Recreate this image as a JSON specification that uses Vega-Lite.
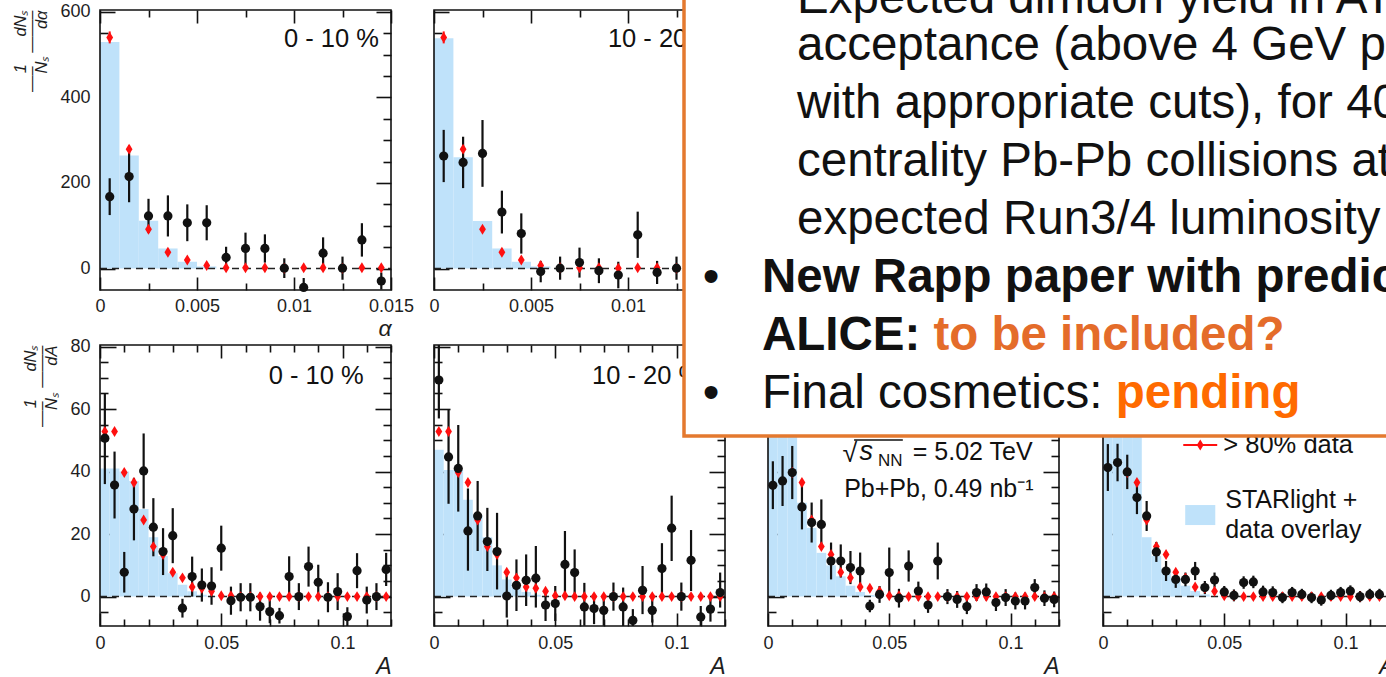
{
  "$schema": "https://vega.github.io/schema/vega-lite/v6.json",
  "width": 1386,
  "height": 677,
  "autosize": {"type": "none"},
  "padding": 0,
  "background": "white",
  "config": {
    "font": "Liberation Sans",
    "view": {"stroke": null},
    "axis": {
      "zindex": 1,
      "grid": false,
      "domain": false,
      "tickColor": "#111111",
      "tickWidth": 1.6,
      "labelFont": "Liberation Sans",
      "labelFontSize": 18,
      "labelColor": "#1e1e1e",
      "labelFlush": false,
      "labelOverlap": false,
      "labelBound": false,
      "titleFont": "Liberation Sans",
      "titleColor": "#1e1e1e",
      "titleFontWeight": "normal"
    }
  },
  "datasets": {
    "top1_hist": [
      {"a0": 0, "a1": 0.001, "v": 529}, {"a0": 0.001, "a1": 0.002, "v": 264}, {"a0": 0.002, "a1": 0.003, "v": 112},
      {"a0": 0.003, "a1": 0.004, "v": 47}, {"a0": 0.004, "a1": 0.005, "v": 16}, {"a0": 0.005, "a1": 0.006, "v": 5}
    ],
    "top2_hist": [
      {"a0": 0, "a1": 0.001, "v": 538}, {"a0": 0.001, "a1": 0.002, "v": 260}, {"a0": 0.002, "a1": 0.003, "v": 111},
      {"a0": 0.003, "a1": 0.004, "v": 47}, {"a0": 0.004, "a1": 0.005, "v": 16}, {"a0": 0.005, "a1": 0.006, "v": 5}
    ],
    "top_red": [
      {"a": 0.0005, "v": 540, "lo": 526, "hi": 554}, {"a": 0.0015, "v": 279, "lo": 270, "hi": 288},
      {"a": 0.0025, "v": 92, "lo": 86, "hi": 98}, {"a": 0.0035, "v": 38, "lo": 33, "hi": 43},
      {"a": 0.0045, "v": 20, "lo": 16, "hi": 24}, {"a": 0.0055, "v": 7, "lo": 4, "hi": 10},
      {"a": 0.0065, "v": 2, "lo": 0, "hi": 4}, {"a": 0.0075, "v": 2, "lo": 0, "hi": 4},
      {"a": 0.0085, "v": 2, "lo": 0, "hi": 4}, {"a": 0.0095, "v": 1, "lo": -1, "hi": 3},
      {"a": 0.0105, "v": 2, "lo": 0, "hi": 4}, {"a": 0.0115, "v": 2, "lo": 0, "hi": 4},
      {"a": 0.0125, "v": 1, "lo": -1, "hi": 3}, {"a": 0.0135, "v": 2, "lo": 0, "hi": 4},
      {"a": 0.0145, "v": 2, "lo": 0, "hi": 4}
    ],
    "top1_pts": [
      {"a": 0.0005, "v": 168, "lo": 125, "hi": 211}, {"a": 0.0015, "v": 215, "lo": 155, "hi": 275},
      {"a": 0.0025, "v": 123, "lo": 83, "hi": 163}, {"a": 0.0035, "v": 123, "lo": 75, "hi": 171},
      {"a": 0.0045, "v": 107, "lo": 64, "hi": 150}, {"a": 0.0055, "v": 107, "lo": 66, "hi": 148},
      {"a": 0.0065, "v": 26, "lo": 1, "hi": 51}, {"a": 0.0075, "v": 47, "lo": 10, "hi": 84},
      {"a": 0.0085, "v": 47, "lo": 14, "hi": 80}, {"a": 0.0095, "v": 1, "lo": -22, "hi": 24},
      {"a": 0.0105, "v": -44, "lo": -66, "hi": -22}, {"a": 0.0115, "v": 36, "lo": -1, "hi": 73},
      {"a": 0.0125, "v": 1, "lo": -26, "hi": 28}, {"a": 0.0135, "v": 67, "lo": 28, "hi": 106},
      {"a": 0.0145, "v": -29, "lo": -49, "hi": -9}
    ],
    "top2_pts": [
      {"a": 0.0005, "v": 263, "lo": 202, "hi": 324}, {"a": 0.0015, "v": 248, "lo": 188, "hi": 308},
      {"a": 0.0025, "v": 269, "lo": 191, "hi": 347}, {"a": 0.0035, "v": 132, "lo": 82, "hi": 182},
      {"a": 0.0045, "v": 82, "lo": 35, "hi": 129}, {"a": 0.0055, "v": -7, "lo": -32, "hi": 18},
      {"a": 0.0065, "v": 1, "lo": -26, "hi": 28}, {"a": 0.0075, "v": 14, "lo": -21, "hi": 49},
      {"a": 0.0085, "v": -5, "lo": -34, "hi": 24}, {"a": 0.0095, "v": -15, "lo": -46, "hi": 16},
      {"a": 0.0105, "v": 79, "lo": 25, "hi": 133}, {"a": 0.0115, "v": -9, "lo": -36, "hi": 18},
      {"a": 0.0125, "v": 1, "lo": -26, "hi": 28}
    ],
    "bot_red": [
      {"a": 0.002, "v": 52.8}, {"a": 0.006, "v": 52.8}, {"a": 0.01, "v": 39.7}, {"a": 0.014, "v": 36.5},
      {"a": 0.018, "v": 24.5}, {"a": 0.022, "v": 16}, {"a": 0.026, "v": 13.5}, {"a": 0.03, "v": 7.8},
      {"a": 0.034, "v": 6}, {"a": 0.038, "v": 3.1}, {"a": 0.042, "v": 2.7}, {"a": 0.046, "v": 1.7},
      {"a": 0.05, "v": 0.3}, {"a": 0.054, "v": 0.3}, {"a": 0.058, "v": 0}, {"a": 0.062, "v": 0},
      {"a": 0.066, "v": 0}, {"a": 0.07, "v": 0}, {"a": 0.074, "v": 0}, {"a": 0.078, "v": 0},
      {"a": 0.082, "v": 0}, {"a": 0.086, "v": 0}, {"a": 0.09, "v": 0}, {"a": 0.094, "v": 0},
      {"a": 0.098, "v": 0}, {"a": 0.102, "v": 0}, {"a": 0.106, "v": 0}, {"a": 0.11, "v": 0},
      {"a": 0.114, "v": 0}, {"a": 0.118, "v": 0}
    ],
    "b1_hist": [
      {"a0": 0, "a1": 0.004, "v": 41}, {"a0": 0.004, "a1": 0.008, "v": 41}, {"a0": 0.008, "a1": 0.012, "v": 40},
      {"a0": 0.012, "a1": 0.016, "v": 37}, {"a0": 0.016, "a1": 0.02, "v": 28}, {"a0": 0.02, "a1": 0.024, "v": 19},
      {"a0": 0.024, "a1": 0.028, "v": 13}, {"a0": 0.028, "a1": 0.032, "v": 7.5}, {"a0": 0.032, "a1": 0.036, "v": 3.8},
      {"a0": 0.036, "a1": 0.04, "v": 1.7}, {"a0": 0.04, "a1": 0.044, "v": 0.6}, {"a0": 0.044, "a1": 0.048, "v": 0.2}
    ],
    "b2_hist": [
      {"a0": 0, "a1": 0.004, "v": 47}, {"a0": 0.004, "a1": 0.008, "v": 40.5}, {"a0": 0.008, "a1": 0.012, "v": 40.5},
      {"a0": 0.012, "a1": 0.016, "v": 31}, {"a0": 0.016, "a1": 0.02, "v": 26}, {"a0": 0.02, "a1": 0.024, "v": 19},
      {"a0": 0.024, "a1": 0.028, "v": 10}, {"a0": 0.028, "a1": 0.032, "v": 5.5}, {"a0": 0.032, "a1": 0.036, "v": 3},
      {"a0": 0.036, "a1": 0.04, "v": 1.5}, {"a0": 0.04, "a1": 0.044, "v": 0.6}, {"a0": 0.044, "a1": 0.048, "v": 0.2}
    ],
    "b3_hist": [
      {"a0": 0, "a1": 0.004, "v": 60}, {"a0": 0.004, "a1": 0.008, "v": 58}, {"a0": 0.008, "a1": 0.012, "v": 52},
      {"a0": 0.012, "a1": 0.016, "v": 30}, {"a0": 0.016, "a1": 0.02, "v": 22}, {"a0": 0.02, "a1": 0.024, "v": 14},
      {"a0": 0.024, "a1": 0.028, "v": 10}, {"a0": 0.028, "a1": 0.032, "v": 6.5}, {"a0": 0.032, "a1": 0.036, "v": 3.5},
      {"a0": 0.036, "a1": 0.04, "v": 1.5}, {"a0": 0.04, "a1": 0.044, "v": 0.5}, {"a0": 0.044, "a1": 0.048, "v": 0.2}
    ],
    "b4_hist": [
      {"a0": 0, "a1": 0.004, "v": 70}, {"a0": 0.004, "a1": 0.008, "v": 65}, {"a0": 0.008, "a1": 0.012, "v": 58},
      {"a0": 0.012, "a1": 0.016, "v": 54}, {"a0": 0.016, "a1": 0.02, "v": 19}, {"a0": 0.02, "a1": 0.024, "v": 13},
      {"a0": 0.024, "a1": 0.028, "v": 9}, {"a0": 0.028, "a1": 0.032, "v": 6}, {"a0": 0.032, "a1": 0.036, "v": 3.5},
      {"a0": 0.036, "a1": 0.04, "v": 1.8}, {"a0": 0.04, "a1": 0.044, "v": 0.7}, {"a0": 0.044, "a1": 0.048, "v": 0.2}
    ],
    "b1_pts": [
      {"a": 0.002, "v": 50.7, "lo": 36, "hi": 65}, {"a": 0.006, "v": 35.7, "lo": 25, "hi": 46.4},
      {"a": 0.01, "v": 7.8, "lo": 1.3, "hi": 14.3}, {"a": 0.014, "v": 28, "lo": 18, "hi": 38},
      {"a": 0.018, "v": 40.2, "lo": 28.2, "hi": 52.2}, {"a": 0.022, "v": 22.2, "lo": 12.9, "hi": 31.5},
      {"a": 0.026, "v": 14.4, "lo": 6.9, "hi": 21.9}, {"a": 0.03, "v": 19.5, "lo": 10.7, "hi": 28.3},
      {"a": 0.034, "v": -3.7, "lo": -6.7, "hi": -0.7}, {"a": 0.038, "v": 6.4, "lo": 0, "hi": 12.8},
      {"a": 0.042, "v": 3.7, "lo": -1.6, "hi": 9}, {"a": 0.046, "v": 3.4, "lo": -2.6, "hi": 9.4},
      {"a": 0.05, "v": 15.5, "lo": 8.3, "hi": 22.7}, {"a": 0.054, "v": -1.3, "lo": -5.8, "hi": 3.2},
      {"a": 0.058, "v": -0.2, "lo": -4.7, "hi": 4.3}, {"a": 0.062, "v": -0.2, "lo": -4.7, "hi": 4.3},
      {"a": 0.066, "v": -3.2, "lo": -7.7, "hi": 1.3}, {"a": 0.07, "v": -4.8, "lo": -8.5, "hi": -1.1},
      {"a": 0.074, "v": -6.1, "lo": -8.6, "hi": -3.6}, {"a": 0.078, "v": 6.4, "lo": -0.1, "hi": 12.9},
      {"a": 0.082, "v": 0, "lo": -4.3, "hi": 4.3}, {"a": 0.086, "v": 9.6, "lo": 3.2, "hi": 16},
      {"a": 0.09, "v": 4.6, "lo": -1, "hi": 10.2}, {"a": 0.094, "v": -0.2, "lo": -5, "hi": 4.6},
      {"a": 0.098, "v": 1.6, "lo": -4.3, "hi": 7.5}, {"a": 0.102, "v": -6.4, "lo": -9.4, "hi": -3.4},
      {"a": 0.106, "v": 8.3, "lo": 2.7, "hi": 13.9}, {"a": 0.11, "v": -1.1, "lo": -5.4, "hi": 3.2},
      {"a": 0.114, "v": 0, "lo": -4.3, "hi": 4.3}, {"a": 0.118, "v": 8.7, "lo": 3.4, "hi": 14}
    ],
    "b2_pts": [
      {"a": 0.002, "v": 69.3, "lo": 57, "hi": 82}, {"a": 0.006, "v": 44.7, "lo": 29.7, "hi": 59.7},
      {"a": 0.01, "v": 41, "lo": 27.2, "hi": 54.9}, {"a": 0.014, "v": 21, "lo": 8.3, "hi": 34.6},
      {"a": 0.018, "v": 25.8, "lo": 14.6, "hi": 37}, {"a": 0.022, "v": 17.6, "lo": 8.2, "hi": 28.4},
      {"a": 0.026, "v": 14.4, "lo": 2.3, "hi": 26.8}, {"a": 0.03, "v": 0.2, "lo": -6.7, "hi": 6.6},
      {"a": 0.034, "v": 3.6, "lo": -4.6, "hi": 11.9}, {"a": 0.038, "v": 5.2, "lo": -3, "hi": 13.5},
      {"a": 0.042, "v": 5.9, "lo": -3.5, "hi": 16.2}, {"a": 0.046, "v": -2.7, "lo": -7.8, "hi": 1.3},
      {"a": 0.05, "v": -2.2, "lo": -7.8, "hi": 3.4}, {"a": 0.054, "v": 10.3, "lo": -0.3, "hi": 21},
      {"a": 0.058, "v": 7.7, "lo": -0.3, "hi": 15.1}, {"a": 0.062, "v": -3.3, "lo": -9.3, "hi": 4.4},
      {"a": 0.066, "v": -3.8, "lo": -8.8, "hi": 0.7}, {"a": 0.07, "v": -4.4, "lo": -9.3, "hi": 0.2},
      {"a": 0.074, "v": 0, "lo": -4.5, "hi": 4.5}, {"a": 0.078, "v": -3.3, "lo": -9.6, "hi": 2.9},
      {"a": 0.082, "v": -7.6, "lo": -11, "hi": -4}, {"a": 0.086, "v": 2, "lo": -5.6, "hi": 9.8},
      {"a": 0.09, "v": -4.4, "lo": -8.3, "hi": -0.4}, {"a": 0.094, "v": 9, "lo": -0.2, "hi": 17.1},
      {"a": 0.098, "v": 21.9, "lo": 11.4, "hi": 32.3}, {"a": 0.102, "v": 0, "lo": -4.5, "hi": 4.5},
      {"a": 0.106, "v": 11.6, "lo": 1.8, "hi": 21.3}, {"a": 0.11, "v": -6.5, "lo": -10, "hi": -3},
      {"a": 0.114, "v": -4, "lo": -8, "hi": 0}, {"a": 0.118, "v": 1.3, "lo": -3.5, "hi": 7.7}
    ],
    "b3_pts": [
      {"a": 0.002, "v": 35.6, "lo": 28, "hi": 43.3}, {"a": 0.006, "v": 37, "lo": 29, "hi": 45},
      {"a": 0.01, "v": 39.7, "lo": 31.2, "hi": 48.2}, {"a": 0.014, "v": 28.7, "lo": 21.5, "hi": 35.9},
      {"a": 0.018, "v": 23.7, "lo": 17.3, "hi": 30.1}, {"a": 0.022, "v": 23.1, "lo": 15.1, "hi": 31.1},
      {"a": 0.026, "v": 11.4, "lo": 5.5, "hi": 17.3}, {"a": 0.03, "v": 11.4, "lo": 6.1, "hi": 16.7},
      {"a": 0.034, "v": 9.3, "lo": 4, "hi": 14.6}, {"a": 0.038, "v": 8.2, "lo": 2.3, "hi": 14.1},
      {"a": 0.042, "v": -3, "lo": -5, "hi": -1}, {"a": 0.046, "v": 0.7, "lo": -2, "hi": 3.4},
      {"a": 0.05, "v": 7.7, "lo": -0.3, "hi": 15.7}, {"a": 0.054, "v": -0.5, "lo": -3.5, "hi": 2.5},
      {"a": 0.058, "v": 9.8, "lo": 4.8, "hi": 14.8}, {"a": 0.062, "v": 1.8, "lo": -1.2, "hi": 4.8},
      {"a": 0.066, "v": -2.7, "lo": -5.2, "hi": -0.2}, {"a": 0.07, "v": 11.4, "lo": 5.5, "hi": 17.3},
      {"a": 0.074, "v": 0, "lo": -2.4, "hi": 2.4}, {"a": 0.078, "v": -0.9, "lo": -3.6, "hi": 1.8},
      {"a": 0.082, "v": -3.2, "lo": -5.6, "hi": -0.8}, {"a": 0.086, "v": 1.3, "lo": -1.4, "hi": 4},
      {"a": 0.09, "v": 1.5, "lo": -1.2, "hi": 4.2}, {"a": 0.094, "v": -1.9, "lo": -4.6, "hi": 0.8},
      {"a": 0.098, "v": -0.3, "lo": -3, "hi": 2.4}, {"a": 0.102, "v": -1.4, "lo": -4.1, "hi": 1.3},
      {"a": 0.106, "v": -1.4, "lo": -4.1, "hi": 1.3}, {"a": 0.11, "v": 2.9, "lo": 0.2, "hi": 5.6},
      {"a": 0.114, "v": -0.5, "lo": -3, "hi": 2}, {"a": 0.118, "v": -0.9, "lo": -3.4, "hi": 1.6}
    ],
    "b4_pts": [
      {"a": 0.002, "v": 41.3, "lo": 33.8, "hi": 48.8}, {"a": 0.006, "v": 42.9, "lo": 36.9, "hi": 48.9},
      {"a": 0.01, "v": 39.9, "lo": 34.4, "hi": 45.4}, {"a": 0.014, "v": 31.7, "lo": 26.4, "hi": 37},
      {"a": 0.018, "v": 25.8, "lo": 21, "hi": 30.6}, {"a": 0.022, "v": 14.3, "lo": 11.1, "hi": 17.5},
      {"a": 0.026, "v": 8.2, "lo": 5, "hi": 11.4}, {"a": 0.03, "v": 5.5, "lo": 2.8, "hi": 8.2},
      {"a": 0.034, "v": 5.5, "lo": 3.3, "hi": 7.7}, {"a": 0.038, "v": 8.2, "lo": 5.3, "hi": 11.1},
      {"a": 0.042, "v": 2.9, "lo": 0.8, "hi": 5}, {"a": 0.046, "v": 5.3, "lo": 2.9, "hi": 7.7},
      {"a": 0.05, "v": 1.5, "lo": -0.4, "hi": 3.4}, {"a": 0.054, "v": 0.4, "lo": -1.5, "hi": 2.3},
      {"a": 0.058, "v": 4.5, "lo": 2.5, "hi": 6.5}, {"a": 0.062, "v": 4.7, "lo": 2.7, "hi": 6.7},
      {"a": 0.066, "v": 1.5, "lo": -0.5, "hi": 3.5}, {"a": 0.07, "v": 1.3, "lo": -0.7, "hi": 3.3},
      {"a": 0.074, "v": -0.3, "lo": -2.1, "hi": 1.5}, {"a": 0.078, "v": 1.3, "lo": -0.5, "hi": 3.1},
      {"a": 0.082, "v": 0.7, "lo": -1.1, "hi": 2.5}, {"a": 0.086, "v": -0.3, "lo": -2.1, "hi": 1.5},
      {"a": 0.09, "v": -1.1, "lo": -2.9, "hi": 0.7}, {"a": 0.094, "v": 0.4, "lo": -1.4, "hi": 2.2},
      {"a": 0.098, "v": 1.3, "lo": -0.5, "hi": 3.1}, {"a": 0.102, "v": 1.8, "lo": 0, "hi": 3.6},
      {"a": 0.106, "v": 0, "lo": -1.8, "hi": 1.8}, {"a": 0.11, "v": 0.7, "lo": -1.1, "hi": 2.5},
      {"a": 0.114, "v": 0.7, "lo": -1.1, "hi": 2.5}
    ],
    "box_first": [{"txt": "Expected dimuon yield in ATLAS"}],
    "box_sub": [
      {"line": 1, "txt": "acceptance (above 4 GeV pT"},
      {"line": 2, "txt": "with appropriate cuts), for 40"},
      {"line": 3, "txt": "centrality Pb-Pb collisions at"},
      {"line": 4, "txt": "expected Run3/4 luminosity"}
    ],
    "box_bullets": [{"line": 5, "txt": "\u2022"}, {"line": 7, "txt": "\u2022"}],
    "box_bold": [{"line": 5, "txt": "New Rapp paper with predictions for"}, {"line": 6, "txt": "ALICE:"}],
    "box_plain": [{"line": 7, "txt": "Final cosmetics:"}],
    "box_q": [{"line": 6, "txt": "to be included?"}],
    "box_pending": [{"line": 7, "txt": "pending"}]
  },
  "layer": [
    {"data": {"name": "top1_hist"}, "mark": {"type": "rect", "color": "#bfe2fa"},
     "encoding": {
       "x": {"field": "a0", "type": "quantitative", "scale": {"domain": [0, 0.015], "range": [100, 391], "nice": false, "zero": false},
             "axis": {"orient": "bottom", "offset": -387, "values": [0, 0.0025, 0.005, 0.0075, 0.01, 0.0125, 0.015],
                      "tickSize": {"condition": {"test": "abs(datum.value/0.005-round(datum.value/0.005))<1e-6", "value": -13}, "value": -7},
                      "labelPadding": 20, "labelExpr": "abs(datum.value/0.005-round(datum.value/0.005))<1e-6 ? format(datum.value,'~g') : ''",
                      "title": "\u03b1", "titleAnchor": "end", "titleFontSize": 23, "titleFontStyle": "italic", "titlePadding": -4}},
       "x2": {"field": "a1"},
       "y": {"field": "v", "type": "quantitative", "scale": {"domain": [-50, 604], "range": [290, 10], "nice": false, "zero": false},
             "axis": {"orient": "left", "offset": -100, "values": [0, 50, 100, 150, 200, 250, 300, 350, 400, 450, 500, 550, 600],
                      "tickSize": {"condition": {"test": "abs(datum.value/200-round(datum.value/200))<1e-6", "value": -15}, "value": -8},
                      "labelPadding": 25, "labelExpr": "abs(datum.value/200-round(datum.value/200))<1e-6 ? format(datum.value,'d') : ''",
                      "title": ["1\u00a0\u00a0\u00a0\u00a0\u00a0\u00a0dN\u209b\u00a0\u00a0", "\u2014\u2013\u00a0\u00a0\u00a0\u2014\u2014\u2013", "N\u209b\u00a0\u00a0\u00a0\u00a0\u00a0\u00a0d\u03b1\u00a0\u00a0\u00a0"],
                      "titleAnchor": "end", "titleFontSize": 16.5, "titleLineHeight": 10.5, "titleFontStyle": "italic", "titlePadding": 10}},
       "y2": {"datum": 0}
     }},
    {"data": {"values": [{}]}, "mark": {"type": "rule", "color": "#222222", "strokeWidth": 1.5, "strokeDash": [7, 5]},
     "encoding": {
       "x": {"datum": 0, "type": "quantitative", "scale": {"domain": [0, 0.015], "range": [100, 391], "nice": false, "zero": false}, "axis": null},
       "x2": {"datum": 0.015},
       "y": {"datum": 0, "type": "quantitative", "scale": {"domain": [-50, 604], "range": [290, 10], "nice": false, "zero": false}, "axis": null}
     }},
    {"data": {"values": [{}]}, "mark": {"type": "rect", "filled": false, "color": "#111111", "strokeWidth": 1.6},
     "encoding": {
       "x": {"datum": 0, "type": "quantitative", "scale": {"domain": [0, 0.015], "range": [100, 391], "nice": false, "zero": false}, "axis": null},
       "x2": {"datum": 0.015},
       "y": {"datum": -50, "type": "quantitative", "scale": {"domain": [-50, 604], "range": [290, 10], "nice": false, "zero": false}, "axis": null},
       "y2": {"datum": 604}
     }},
    {"data": {"name": "top1_pts"}, "mark": {"type": "rule", "color": "#111111", "strokeWidth": 2.2},
     "encoding": {
       "x": {"field": "a", "type": "quantitative", "scale": {"domain": [0, 0.015], "range": [100, 391], "nice": false, "zero": false},
             "axis": {"orient": "top", "offset": -10, "values": [0, 0.0025, 0.005, 0.0075, 0.01, 0.0125, 0.015], "labels": false, "title": null,
                      "tickSize": {"condition": {"test": "abs(datum.value/0.005-round(datum.value/0.005))<1e-6", "value": -13}, "value": -7}}},
       "y": {"field": "lo", "type": "quantitative", "scale": {"domain": [-50, 604], "range": [290, 10], "nice": false, "zero": false, "clamp": true},
             "axis": {"orient": "right", "offset": -995, "values": [0, 50, 100, 150, 200, 250, 300, 350, 400, 450, 500, 550, 600], "labels": false, "title": null,
                      "tickSize": {"condition": {"test": "abs(datum.value/200-round(datum.value/200))<1e-6", "value": -15}, "value": -8}}},
       "y2": {"field": "hi"}
     }},
    {"data": {"name": "top_red"}, "mark": {"type": "rule", "color": "#ff1010", "strokeWidth": 2},
     "encoding": {
       "x": {"field": "a", "type": "quantitative", "scale": {"domain": [0, 0.015], "range": [100, 391], "nice": false, "zero": false}, "axis": null},
       "y": {"field": "lo", "type": "quantitative", "scale": {"domain": [-50, 604], "range": [290, 10], "nice": false, "zero": false}, "axis": null},
       "y2": {"field": "hi"}
     }},
    {"data": {"name": "top_red"}, "mark": {"type": "point", "shape": "M0,-1L0.62,0L0,1L-0.62,0Z", "filled": true, "size": 120, "color": "#ff1010", "opacity": 1},
     "encoding": {
       "x": {"field": "a", "type": "quantitative", "scale": {"domain": [0, 0.015], "range": [100, 391], "nice": false, "zero": false}, "axis": null},
       "y": {"field": "v", "type": "quantitative", "scale": {"domain": [-50, 604], "range": [290, 10], "nice": false, "zero": false}, "axis": null}
     }},
    {"data": {"name": "top1_pts"}, "mark": {"type": "circle", "size": 85, "color": "#111111", "opacity": 1},
     "encoding": {
       "x": {"field": "a", "type": "quantitative", "scale": {"domain": [0, 0.015], "range": [100, 391], "nice": false, "zero": false}, "axis": null},
       "y": {"field": "v", "type": "quantitative", "scale": {"domain": [-50, 604], "range": [290, 10], "nice": false, "zero": false}, "axis": null}
     }},
    {"data": {"values": [{}]}, "mark": {"type": "text", "text": "0 - 10 %", "align": "right", "baseline": "alphabetic", "fontSize": 25.5, "color": "#111111"},
     "encoding": {
       "x": {"datum": 0.01438, "type": "quantitative", "scale": {"domain": [0, 0.015], "range": [100, 391], "nice": false, "zero": false}, "axis": null},
       "y": {"datum": 518, "type": "quantitative", "scale": {"domain": [-50, 604], "range": [290, 10], "nice": false, "zero": false}, "axis": null}
     }},

    {"data": {"name": "top2_hist"}, "mark": {"type": "rect", "color": "#bfe2fa"},
     "encoding": {
       "x": {"field": "a0", "type": "quantitative", "scale": {"domain": [0, 0.015], "range": [434, 725], "nice": false, "zero": false},
             "axis": {"orient": "bottom", "offset": -387, "values": [0, 0.0025, 0.005, 0.0075, 0.01, 0.0125],
                      "tickSize": {"condition": {"test": "abs(datum.value/0.005-round(datum.value/0.005))<1e-6", "value": -13}, "value": -7},
                      "labelPadding": 20, "labelExpr": "abs(datum.value/0.005-round(datum.value/0.005))<1e-6 ? format(datum.value,'~g') : ''",
                      "title": null}},
       "x2": {"field": "a1"},
       "y": {"field": "v", "type": "quantitative", "scale": {"domain": [-50, 604], "range": [290, 10], "nice": false, "zero": false},
             "axis": {"orient": "left", "offset": -434, "values": [0, 50, 100, 150, 200, 250, 300, 350, 400, 450, 500, 550, 600], "labels": false, "title": null,
                      "tickSize": {"condition": {"test": "abs(datum.value/200-round(datum.value/200))<1e-6", "value": -15}, "value": -8}}},
       "y2": {"datum": 0}
     }},
    {"data": {"values": [{}]}, "mark": {"type": "rule", "color": "#222222", "strokeWidth": 1.5, "strokeDash": [7, 5]},
     "encoding": {
       "x": {"datum": 0, "type": "quantitative", "scale": {"domain": [0, 0.015], "range": [434, 725], "nice": false, "zero": false}, "axis": null},
       "x2": {"datum": 0.015},
       "y": {"datum": 0, "type": "quantitative", "scale": {"domain": [-50, 604], "range": [290, 10], "nice": false, "zero": false}, "axis": null}
     }},
    {"data": {"values": [{}]}, "mark": {"type": "rect", "filled": false, "color": "#111111", "strokeWidth": 1.6},
     "encoding": {
       "x": {"datum": 0, "type": "quantitative", "scale": {"domain": [0, 0.015], "range": [434, 725], "nice": false, "zero": false}, "axis": null},
       "x2": {"datum": 0.015},
       "y": {"datum": -50, "type": "quantitative", "scale": {"domain": [-50, 604], "range": [290, 10], "nice": false, "zero": false}, "axis": null},
       "y2": {"datum": 604}
     }},
    {"data": {"name": "top2_pts"}, "mark": {"type": "rule", "color": "#111111", "strokeWidth": 2.2},
     "encoding": {
       "x": {"field": "a", "type": "quantitative", "scale": {"domain": [0, 0.015], "range": [434, 725], "nice": false, "zero": false},
             "axis": {"orient": "top", "offset": -10, "values": [0, 0.0025, 0.005, 0.0075, 0.01, 0.0125], "labels": false, "title": null,
                      "tickSize": {"condition": {"test": "abs(datum.value/0.005-round(datum.value/0.005))<1e-6", "value": -13}, "value": -7}}},
       "y": {"field": "lo", "type": "quantitative", "scale": {"domain": [-50, 604], "range": [290, 10], "nice": false, "zero": false, "clamp": true}, "axis": null},
       "y2": {"field": "hi"}
     }},
    {"data": {"name": "top_red"}, "mark": {"type": "rule", "color": "#ff1010", "strokeWidth": 2},
     "encoding": {
       "x": {"field": "a", "type": "quantitative", "scale": {"domain": [0, 0.015], "range": [434, 725], "nice": false, "zero": false}, "axis": null},
       "y": {"field": "lo", "type": "quantitative", "scale": {"domain": [-50, 604], "range": [290, 10], "nice": false, "zero": false}, "axis": null},
       "y2": {"field": "hi"}
     }},
    {"data": {"name": "top_red"}, "mark": {"type": "point", "shape": "M0,-1L0.62,0L0,1L-0.62,0Z", "filled": true, "size": 120, "color": "#ff1010", "opacity": 1},
     "encoding": {
       "x": {"field": "a", "type": "quantitative", "scale": {"domain": [0, 0.015], "range": [434, 725], "nice": false, "zero": false}, "axis": null},
       "y": {"field": "v", "type": "quantitative", "scale": {"domain": [-50, 604], "range": [290, 10], "nice": false, "zero": false}, "axis": null}
     }},
    {"data": {"name": "top2_pts"}, "mark": {"type": "circle", "size": 85, "color": "#111111", "opacity": 1},
     "encoding": {
       "x": {"field": "a", "type": "quantitative", "scale": {"domain": [0, 0.015], "range": [434, 725], "nice": false, "zero": false}, "axis": null},
       "y": {"field": "v", "type": "quantitative", "scale": {"domain": [-50, 604], "range": [290, 10], "nice": false, "zero": false}, "axis": null}
     }},
    {"data": {"values": [{}]}, "mark": {"type": "text", "text": "10 - 20 %", "align": "right", "baseline": "alphabetic", "fontSize": 25.5, "color": "#111111"},
     "encoding": {
       "x": {"datum": 0.01459, "type": "quantitative", "scale": {"domain": [0, 0.015], "range": [434, 725], "nice": false, "zero": false}, "axis": null},
       "y": {"datum": 518, "type": "quantitative", "scale": {"domain": [-50, 604], "range": [290, 10], "nice": false, "zero": false}, "axis": null}
     }},

    {"data": {"name": "b1_hist"}, "mark": {"type": "rect", "color": "#bfe2fa"},
     "encoding": {
       "x": {"field": "a0", "type": "quantitative", "scale": {"domain": [0, 0.12], "range": [100, 391], "nice": false, "zero": false},
             "axis": {"orient": "bottom", "offset": -51, "values": [0, 0.01, 0.02, 0.03, 0.04, 0.05, 0.06, 0.07, 0.08, 0.09, 0.1, 0.11, 0.12],
                      "tickSize": {"condition": {"test": "abs(datum.value/0.05-round(datum.value/0.05))<1e-6", "value": -13}, "value": -7},
                      "labelPadding": 21, "labelExpr": "abs(datum.value/0.05-round(datum.value/0.05))<1e-6 ? format(datum.value,'~g') : ''",
                      "title": "A", "titleAnchor": "end", "titleFontSize": 23, "titleFontStyle": "italic", "titlePadding": -3}},
       "x2": {"field": "a1"},
       "y": {"field": "v", "type": "quantitative", "scale": {"domain": [-9.4, 80.5], "range": [626, 345], "nice": false, "zero": false},
             "axis": {"orient": "left", "offset": -100, "values": [-5, 0, 5, 10, 15, 20, 25, 30, 35, 40, 45, 50, 55, 60, 65, 70, 75, 80],
                      "tickSize": {"condition": {"test": "abs(datum.value/20-round(datum.value/20))<1e-6", "value": -16}, "value": -8},
                      "labelPadding": 26, "labelExpr": "abs(datum.value/20-round(datum.value/20))<1e-6 ? format(datum.value,'d') : ''",
                      "title": ["1\u00a0\u00a0\u00a0\u00a0\u00a0\u00a0dN\u209b\u00a0\u00a0", "\u2014\u2013\u00a0\u00a0\u00a0\u2014\u2014\u2013", "N\u209b\u00a0\u00a0\u00a0\u00a0\u00a0\u00a0dA\u00a0\u00a0\u00a0"],
                      "titleAnchor": "end", "titleFontSize": 16.5, "titleLineHeight": 10.5, "titleFontStyle": "italic", "titlePadding": 10}},
       "y2": {"datum": 0}
     }},
    {"data": {"values": [{}]}, "mark": {"type": "rule", "color": "#222222", "strokeWidth": 1.5, "strokeDash": [7, 5]},
     "encoding": {
       "x": {"datum": 0, "type": "quantitative", "scale": {"domain": [0, 0.12], "range": [100, 391], "nice": false, "zero": false}, "axis": null},
       "x2": {"datum": 0.12},
       "y": {"datum": 0, "type": "quantitative", "scale": {"domain": [-9.4, 80.5], "range": [626, 345], "nice": false, "zero": false}, "axis": null}
     }},
    {"data": {"values": [{}]}, "mark": {"type": "rect", "filled": false, "color": "#111111", "strokeWidth": 1.6},
     "encoding": {
       "x": {"datum": 0, "type": "quantitative", "scale": {"domain": [0, 0.12], "range": [100, 391], "nice": false, "zero": false}, "axis": null},
       "x2": {"datum": 0.12},
       "y": {"datum": -9.4, "type": "quantitative", "scale": {"domain": [-9.4, 80.5], "range": [626, 345], "nice": false, "zero": false}, "axis": null},
       "y2": {"datum": 80.5}
     }},
    {"data": {"name": "b1_pts"}, "mark": {"type": "rule", "color": "#111111", "strokeWidth": 2.2},
     "encoding": {
       "x": {"field": "a", "type": "quantitative", "scale": {"domain": [0, 0.12], "range": [100, 391], "nice": false, "zero": false},
             "axis": {"orient": "top", "offset": -345, "values": [0, 0.01, 0.02, 0.03, 0.04, 0.05, 0.06, 0.07, 0.08, 0.09, 0.1, 0.11, 0.12], "labels": false, "title": null,
                      "tickSize": {"condition": {"test": "abs(datum.value/0.05-round(datum.value/0.05))<1e-6", "value": -13}, "value": -7}}},
       "y": {"field": "lo", "type": "quantitative", "scale": {"domain": [-9.4, 80.5], "range": [626, 345], "nice": false, "zero": false, "clamp": true},
             "axis": {"orient": "right", "offset": -995, "values": [-5, 0, 5, 10, 15, 20, 25, 30, 35, 40, 45, 50, 55, 60, 65, 70, 75, 80], "labels": false, "title": null,
                      "tickSize": {"condition": {"test": "abs(datum.value/20-round(datum.value/20))<1e-6", "value": -16}, "value": -8}}},
       "y2": {"field": "hi"}
     }},
    {"data": {"name": "bot_red"}, "mark": {"type": "point", "shape": "M0,-1L0.62,0L0,1L-0.62,0Z", "filled": true, "size": 120, "color": "#ff1010", "opacity": 1},
     "encoding": {
       "x": {"field": "a", "type": "quantitative", "scale": {"domain": [0, 0.12], "range": [100, 391], "nice": false, "zero": false}, "axis": null},
       "y": {"field": "v", "type": "quantitative", "scale": {"domain": [-9.4, 80.5], "range": [626, 345], "nice": false, "zero": false}, "axis": null}
     }},
    {"data": {"name": "b1_pts"}, "mark": {"type": "circle", "size": 85, "color": "#111111", "opacity": 1},
     "encoding": {
       "x": {"field": "a", "type": "quantitative", "scale": {"domain": [0, 0.12], "range": [100, 391], "nice": false, "zero": false}, "axis": null},
       "y": {"field": "v", "type": "quantitative", "scale": {"domain": [-9.4, 80.5], "range": [626, 345], "nice": false, "zero": false}, "axis": null}
     }},
    {"data": {"values": [{}]}, "mark": {"type": "text", "text": "0 - 10 %", "align": "right", "baseline": "alphabetic", "fontSize": 25.5, "color": "#111111"},
     "encoding": {
       "x": {"datum": 0.1087, "type": "quantitative", "scale": {"domain": [0, 0.12], "range": [100, 391], "nice": false, "zero": false}, "axis": null},
       "y": {"datum": 68.1, "type": "quantitative", "scale": {"domain": [-9.4, 80.5], "range": [626, 345], "nice": false, "zero": false}, "axis": null}
     }},

    {"data": {"name": "b2_hist"}, "mark": {"type": "rect", "color": "#bfe2fa"},
     "encoding": {
       "x": {"field": "a0", "type": "quantitative", "scale": {"domain": [0, 0.12], "range": [434, 725], "nice": false, "zero": false},
             "axis": {"orient": "bottom", "offset": -51, "values": [0, 0.01, 0.02, 0.03, 0.04, 0.05, 0.06, 0.07, 0.08, 0.09, 0.1, 0.11, 0.12],
                      "tickSize": {"condition": {"test": "abs(datum.value/0.05-round(datum.value/0.05))<1e-6", "value": -13}, "value": -7},
                      "labelPadding": 21, "labelExpr": "abs(datum.value/0.05-round(datum.value/0.05))<1e-6 ? format(datum.value,'~g') : ''",
                      "title": "A", "titleAnchor": "end", "titleFontSize": 23, "titleFontStyle": "italic", "titlePadding": -3}},
       "x2": {"field": "a1"},
       "y": {"field": "v", "type": "quantitative", "scale": {"domain": [-9.4, 80.5], "range": [626, 345], "nice": false, "zero": false},
             "axis": {"orient": "left", "offset": -434, "values": [-5, 0, 5, 10, 15, 20, 25, 30, 35, 40, 45, 50, 55, 60, 65, 70, 75, 80], "labels": false, "title": null,
                      "tickSize": {"condition": {"test": "abs(datum.value/20-round(datum.value/20))<1e-6", "value": -16}, "value": -8}}},
       "y2": {"datum": 0}
     }},
    {"data": {"values": [{}]}, "mark": {"type": "rule", "color": "#222222", "strokeWidth": 1.5, "strokeDash": [7, 5]},
     "encoding": {
       "x": {"datum": 0, "type": "quantitative", "scale": {"domain": [0, 0.12], "range": [434, 725], "nice": false, "zero": false}, "axis": null},
       "x2": {"datum": 0.12},
       "y": {"datum": 0, "type": "quantitative", "scale": {"domain": [-9.4, 80.5], "range": [626, 345], "nice": false, "zero": false}, "axis": null}
     }},
    {"data": {"values": [{}]}, "mark": {"type": "rect", "filled": false, "color": "#111111", "strokeWidth": 1.6},
     "encoding": {
       "x": {"datum": 0, "type": "quantitative", "scale": {"domain": [0, 0.12], "range": [434, 725], "nice": false, "zero": false}, "axis": null},
       "x2": {"datum": 0.12},
       "y": {"datum": -9.4, "type": "quantitative", "scale": {"domain": [-9.4, 80.5], "range": [626, 345], "nice": false, "zero": false}, "axis": null},
       "y2": {"datum": 80.5}
     }},
    {"data": {"name": "b2_pts"}, "mark": {"type": "rule", "color": "#111111", "strokeWidth": 2.2},
     "encoding": {
       "x": {"field": "a", "type": "quantitative", "scale": {"domain": [0, 0.12], "range": [434, 725], "nice": false, "zero": false},
             "axis": {"orient": "top", "offset": -345, "values": [0, 0.01, 0.02, 0.03, 0.04, 0.05, 0.06, 0.07, 0.08, 0.09, 0.1], "labels": false, "title": null,
                      "tickSize": {"condition": {"test": "abs(datum.value/0.05-round(datum.value/0.05))<1e-6", "value": -13}, "value": -7}}},
       "y": {"field": "lo", "type": "quantitative", "scale": {"domain": [-9.4, 80.5], "range": [626, 345], "nice": false, "zero": false, "clamp": true},
             "axis": {"orient": "right", "offset": -661, "values": [-5, 0, 5, 10, 15, 20, 25, 30, 35, 40, 45, 50], "labels": false, "title": null,
                      "tickSize": {"condition": {"test": "abs(datum.value/20-round(datum.value/20))<1e-6", "value": -16}, "value": -8}}},
       "y2": {"field": "hi"}
     }},
    {"data": {"name": "bot_red"}, "mark": {"type": "point", "shape": "M0,-1L0.62,0L0,1L-0.62,0Z", "filled": true, "size": 120, "color": "#ff1010", "opacity": 1},
     "encoding": {
       "x": {"field": "a", "type": "quantitative", "scale": {"domain": [0, 0.12], "range": [434, 725], "nice": false, "zero": false}, "axis": null},
       "y": {"field": "v", "type": "quantitative", "scale": {"domain": [-9.4, 80.5], "range": [626, 345], "nice": false, "zero": false}, "axis": null}
     }},
    {"data": {"name": "b2_pts"}, "mark": {"type": "circle", "size": 85, "color": "#111111", "opacity": 1},
     "encoding": {
       "x": {"field": "a", "type": "quantitative", "scale": {"domain": [0, 0.12], "range": [434, 725], "nice": false, "zero": false}, "axis": null},
       "y": {"field": "v", "type": "quantitative", "scale": {"domain": [-9.4, 80.5], "range": [626, 345], "nice": false, "zero": false}, "axis": null}
     }},
    {"data": {"values": [{}]}, "mark": {"type": "text", "text": "10 - 20 %", "align": "right", "baseline": "alphabetic", "fontSize": 25.5, "color": "#111111"},
     "encoding": {
       "x": {"datum": 0.1102, "type": "quantitative", "scale": {"domain": [0, 0.12], "range": [434, 725], "nice": false, "zero": false}, "axis": null},
       "y": {"datum": 68.1, "type": "quantitative", "scale": {"domain": [-9.4, 80.5], "range": [626, 345], "nice": false, "zero": false}, "axis": null}
     }},

    {"data": {"name": "b3_hist"}, "mark": {"type": "rect", "color": "#bfe2fa"},
     "encoding": {
       "x": {"field": "a0", "type": "quantitative", "scale": {"domain": [0, 0.12], "range": [768, 1059], "nice": false, "zero": false},
             "axis": {"orient": "bottom", "offset": -51, "values": [0, 0.01, 0.02, 0.03, 0.04, 0.05, 0.06, 0.07, 0.08, 0.09, 0.1, 0.11, 0.12],
                      "tickSize": {"condition": {"test": "abs(datum.value/0.05-round(datum.value/0.05))<1e-6", "value": -13}, "value": -7},
                      "labelPadding": 21, "labelExpr": "abs(datum.value/0.05-round(datum.value/0.05))<1e-6 ? format(datum.value,'~g') : ''",
                      "title": "A", "titleAnchor": "end", "titleFontSize": 23, "titleFontStyle": "italic", "titlePadding": -3}},
       "x2": {"field": "a1"},
       "y": {"field": "v", "type": "quantitative", "scale": {"domain": [-9.4, 80.5], "range": [626, 345], "nice": false, "zero": false},
             "axis": {"orient": "left", "offset": -768, "values": [-5, 0, 5, 10, 15, 20, 25, 30, 35, 40, 45, 50], "labels": false, "title": null,
                      "tickSize": {"condition": {"test": "abs(datum.value/20-round(datum.value/20))<1e-6", "value": -16}, "value": -8}}},
       "y2": {"datum": 0}
     }},
    {"data": {"values": [{}]}, "mark": {"type": "rule", "color": "#222222", "strokeWidth": 1.5, "strokeDash": [7, 5]},
     "encoding": {
       "x": {"datum": 0, "type": "quantitative", "scale": {"domain": [0, 0.12], "range": [768, 1059], "nice": false, "zero": false}, "axis": null},
       "x2": {"datum": 0.12},
       "y": {"datum": 0, "type": "quantitative", "scale": {"domain": [-9.4, 80.5], "range": [626, 345], "nice": false, "zero": false}, "axis": null}
     }},
    {"data": {"values": [{}]}, "mark": {"type": "rect", "filled": false, "color": "#111111", "strokeWidth": 1.6},
     "encoding": {
       "x": {"datum": 0, "type": "quantitative", "scale": {"domain": [0, 0.12], "range": [768, 1059], "nice": false, "zero": false}, "axis": null},
       "x2": {"datum": 0.12},
       "y": {"datum": -9.4, "type": "quantitative", "scale": {"domain": [-9.4, 80.5], "range": [626, 345], "nice": false, "zero": false}, "axis": null},
       "y2": {"datum": 80.5}
     }},
    {"data": {"name": "b3_pts"}, "mark": {"type": "rule", "color": "#111111", "strokeWidth": 2.2},
     "encoding": {
       "x": {"field": "a", "type": "quantitative", "scale": {"domain": [0, 0.12], "range": [768, 1059], "nice": false, "zero": false}, "axis": null},
       "y": {"field": "lo", "type": "quantitative", "scale": {"domain": [-9.4, 80.5], "range": [626, 345], "nice": false, "zero": false, "clamp": true},
             "axis": {"orient": "right", "offset": -327, "values": [-5, 0, 5, 10, 15, 20, 25, 30, 35, 40, 45, 50], "labels": false, "title": null,
                      "tickSize": {"condition": {"test": "abs(datum.value/20-round(datum.value/20))<1e-6", "value": -16}, "value": -8}}},
       "y2": {"field": "hi"}
     }},
    {"data": {"name": "bot_red"}, "mark": {"type": "point", "shape": "M0,-1L0.62,0L0,1L-0.62,0Z", "filled": true, "size": 120, "color": "#ff1010", "opacity": 1},
     "encoding": {
       "x": {"field": "a", "type": "quantitative", "scale": {"domain": [0, 0.12], "range": [768, 1059], "nice": false, "zero": false}, "axis": null},
       "y": {"field": "v", "type": "quantitative", "scale": {"domain": [-9.4, 80.5], "range": [626, 345], "nice": false, "zero": false}, "axis": null}
     }},
    {"data": {"name": "b3_pts"}, "mark": {"type": "circle", "size": 85, "color": "#111111", "opacity": 1},
     "encoding": {
       "x": {"field": "a", "type": "quantitative", "scale": {"domain": [0, 0.12], "range": [768, 1059], "nice": false, "zero": false}, "axis": null},
       "y": {"field": "v", "type": "quantitative", "scale": {"domain": [-9.4, 80.5], "range": [626, 345], "nice": false, "zero": false}, "axis": null}
     }},
    {"data": {"values": [{}]}, "mark": {"type": "text", "text": "= 5.02 TeV", "align": "right", "baseline": "alphabetic", "fontSize": 25, "color": "#111111"},
     "encoding": {
       "x": {"datum": 0.1091, "type": "quantitative", "scale": {"domain": [0, 0.12], "range": [768, 1059], "nice": false, "zero": false}, "axis": null},
       "y": {"datum": 43.7, "type": "quantitative", "scale": {"domain": [-9.4, 80.5], "range": [626, 345], "nice": false, "zero": false}, "axis": null}
     }},
    {"data": {"values": [{}]}, "mark": {"type": "text", "text": "NN", "align": "right", "baseline": "alphabetic", "fontSize": 17, "color": "#111111"},
     "encoding": {
       "x": {"datum": 0.0555, "type": "quantitative", "scale": {"domain": [0, 0.12], "range": [768, 1059], "nice": false, "zero": false}, "axis": null},
       "y": {"datum": 41.8, "type": "quantitative", "scale": {"domain": [-9.4, 80.5], "range": [626, 345], "nice": false, "zero": false}, "axis": null}
     }},
    {"data": {"values": [{}]}, "mark": {"type": "text", "text": "s", "align": "right", "baseline": "alphabetic", "fontSize": 27, "fontStyle": "italic", "color": "#111111"},
     "encoding": {
       "x": {"datum": 0.0433, "type": "quantitative", "scale": {"domain": [0, 0.12], "range": [768, 1059], "nice": false, "zero": false}, "axis": null},
       "y": {"datum": 43.7, "type": "quantitative", "scale": {"domain": [-9.4, 80.5], "range": [626, 345], "nice": false, "zero": false}, "axis": null}
     }},
    {"data": {"values": [{}]}, "mark": {"type": "text", "text": "\u221a", "align": "right", "baseline": "alphabetic", "fontSize": 27, "color": "#111111"},
     "encoding": {
       "x": {"datum": 0.0368, "type": "quantitative", "scale": {"domain": [0, 0.12], "range": [768, 1059], "nice": false, "zero": false}, "axis": null},
       "y": {"datum": 43.0, "type": "quantitative", "scale": {"domain": [-9.4, 80.5], "range": [626, 345], "nice": false, "zero": false}, "axis": null}
     }},
    {"data": {"values": [{}]}, "mark": {"type": "rule", "color": "#111111", "strokeWidth": 1.5},
     "encoding": {
       "x": {"datum": 0.0355, "type": "quantitative", "scale": {"domain": [0, 0.12], "range": [768, 1059], "nice": false, "zero": false}, "axis": null},
       "x2": {"datum": 0.0556},
       "y": {"datum": 50.1, "type": "quantitative", "scale": {"domain": [-9.4, 80.5], "range": [626, 345], "nice": false, "zero": false}, "axis": null}
     }},
    {"data": {"values": [{}]}, "mark": {"type": "text", "text": "Pb+Pb, 0.49 nb\u207b\u00b9", "align": "right", "baseline": "alphabetic", "fontSize": 25, "color": "#111111"},
     "encoding": {
       "x": {"datum": 0.1095, "type": "quantitative", "scale": {"domain": [0, 0.12], "range": [768, 1059], "nice": false, "zero": false}, "axis": null},
       "y": {"datum": 32.0, "type": "quantitative", "scale": {"domain": [-9.4, 80.5], "range": [626, 345], "nice": false, "zero": false}, "axis": null}
     }},

    {"data": {"name": "b4_hist"}, "mark": {"type": "rect", "color": "#bfe2fa"},
     "encoding": {
       "x": {"field": "a0", "type": "quantitative", "scale": {"domain": [0, 0.12], "range": [1103, 1394], "nice": false, "zero": false},
             "axis": {"orient": "bottom", "offset": -51, "values": [0, 0.01, 0.02, 0.03, 0.04, 0.05, 0.06, 0.07, 0.08, 0.09, 0.1, 0.11, 0.12],
                      "tickSize": {"condition": {"test": "abs(datum.value/0.05-round(datum.value/0.05))<1e-6", "value": -13}, "value": -7},
                      "labelPadding": 21, "labelExpr": "abs(datum.value/0.05-round(datum.value/0.05))<1e-6 ? format(datum.value,'~g') : ''",
                      "title": "A", "titleAnchor": "end", "titleFontSize": 23, "titleFontStyle": "italic", "titlePadding": -3}},
       "x2": {"field": "a1"},
       "y": {"field": "v", "type": "quantitative", "scale": {"domain": [-9.4, 80.5], "range": [626, 345], "nice": false, "zero": false},
             "axis": {"orient": "left", "offset": -1103, "values": [-5, 0, 5, 10, 15, 20, 25, 30, 35, 40, 45, 50], "labels": false, "title": null,
                      "tickSize": {"condition": {"test": "abs(datum.value/20-round(datum.value/20))<1e-6", "value": -16}, "value": -8}}},
       "y2": {"datum": 0}
     }},
    {"data": {"values": [{}]}, "mark": {"type": "rule", "color": "#222222", "strokeWidth": 1.5, "strokeDash": [7, 5]},
     "encoding": {
       "x": {"datum": 0, "type": "quantitative", "scale": {"domain": [0, 0.12], "range": [1103, 1394], "nice": false, "zero": false}, "axis": null},
       "x2": {"datum": 0.12},
       "y": {"datum": 0, "type": "quantitative", "scale": {"domain": [-9.4, 80.5], "range": [626, 345], "nice": false, "zero": false}, "axis": null}
     }},
    {"data": {"values": [{}]}, "mark": {"type": "rect", "filled": false, "color": "#111111", "strokeWidth": 1.6},
     "encoding": {
       "x": {"datum": 0, "type": "quantitative", "scale": {"domain": [0, 0.12], "range": [1103, 1394], "nice": false, "zero": false}, "axis": null},
       "x2": {"datum": 0.12},
       "y": {"datum": -9.4, "type": "quantitative", "scale": {"domain": [-9.4, 80.5], "range": [626, 345], "nice": false, "zero": false}, "axis": null},
       "y2": {"datum": 80.5}
     }},
    {"data": {"name": "b4_pts"}, "mark": {"type": "rule", "color": "#111111", "strokeWidth": 2.2},
     "encoding": {
       "x": {"field": "a", "type": "quantitative", "scale": {"domain": [0, 0.12], "range": [1103, 1394], "nice": false, "zero": false}, "axis": null},
       "y": {"field": "lo", "type": "quantitative", "scale": {"domain": [-9.4, 80.5], "range": [626, 345], "nice": false, "zero": false, "clamp": true}, "axis": null},
       "y2": {"field": "hi"}
     }},
    {"data": {"name": "bot_red"}, "mark": {"type": "point", "shape": "M0,-1L0.62,0L0,1L-0.62,0Z", "filled": true, "size": 120, "color": "#ff1010", "opacity": 1},
     "encoding": {
       "x": {"field": "a", "type": "quantitative", "scale": {"domain": [0, 0.12], "range": [1103, 1394], "nice": false, "zero": false}, "axis": null},
       "y": {"field": "v", "type": "quantitative", "scale": {"domain": [-9.4, 80.5], "range": [626, 345], "nice": false, "zero": false}, "axis": null}
     }},
    {"data": {"name": "b4_pts"}, "mark": {"type": "circle", "size": 85, "color": "#111111", "opacity": 1},
     "encoding": {
       "x": {"field": "a", "type": "quantitative", "scale": {"domain": [0, 0.12], "range": [1103, 1394], "nice": false, "zero": false}, "axis": null},
       "y": {"field": "v", "type": "quantitative", "scale": {"domain": [-9.4, 80.5], "range": [626, 345], "nice": false, "zero": false}, "axis": null}
     }},
    {"data": {"values": [{}]}, "mark": {"type": "rule", "color": "#ff1010", "strokeWidth": 2},
     "encoding": {
       "x": {"datum": 0.0331, "type": "quantitative", "scale": {"domain": [0, 0.12], "range": [1103, 1394], "nice": false, "zero": false}, "axis": null},
       "x2": {"datum": 0.0471},
       "y": {"datum": 48.5, "type": "quantitative", "scale": {"domain": [-9.4, 80.5], "range": [626, 345], "nice": false, "zero": false}, "axis": null}
     }},
    {"data": {"values": [{}]}, "mark": {"type": "point", "shape": "M0,-1L0.62,0L0,1L-0.62,0Z", "filled": true, "size": 120, "color": "#ff1010", "opacity": 1},
     "encoding": {
       "x": {"datum": 0.0401, "type": "quantitative", "scale": {"domain": [0, 0.12], "range": [1103, 1394], "nice": false, "zero": false}, "axis": null},
       "y": {"datum": 48.5, "type": "quantitative", "scale": {"domain": [-9.4, 80.5], "range": [626, 345], "nice": false, "zero": false}, "axis": null}
     }},
    {"data": {"values": [{}]}, "mark": {"type": "text", "text": "> 80% data", "align": "left", "baseline": "alphabetic", "fontSize": 25.5, "color": "#111111"},
     "encoding": {
       "x": {"datum": 0.0496, "type": "quantitative", "scale": {"domain": [0, 0.12], "range": [1103, 1394], "nice": false, "zero": false}, "axis": null},
       "y": {"datum": 46.0, "type": "quantitative", "scale": {"domain": [-9.4, 80.5], "range": [626, 345], "nice": false, "zero": false}, "axis": null}
     }},
    {"data": {"values": [{}]}, "mark": {"type": "rect", "color": "#bfe2fa"},
     "encoding": {
       "x": {"datum": 0.0339, "type": "quantitative", "scale": {"domain": [0, 0.12], "range": [1103, 1394], "nice": false, "zero": false}, "axis": null},
       "x2": {"datum": 0.0463},
       "y": {"datum": 29.3, "type": "quantitative", "scale": {"domain": [-9.4, 80.5], "range": [626, 345], "nice": false, "zero": false}, "axis": null},
       "y2": {"datum": 22.9}
     }},
    {"data": {"values": [{}]}, "mark": {"type": "text", "text": ["STARlight +", "data overlay"], "lineHeight": 30, "align": "left", "baseline": "alphabetic", "fontSize": 25, "color": "#111111"},
     "encoding": {
       "x": {"datum": 0.0504, "type": "quantitative", "scale": {"domain": [0, 0.12], "range": [1103, 1394], "nice": false, "zero": false}, "axis": null},
       "y": {"datum": 28.4, "type": "quantitative", "scale": {"domain": [-9.4, 80.5], "range": [626, 345], "nice": false, "zero": false}, "axis": null}
     }},

    {"data": {"values": [{}]}, "mark": {"type": "rect", "fill": "white", "stroke": "#e4792f", "strokeWidth": 3.5},
     "encoding": {
       "x": {"datum": 0, "type": "quantitative", "scale": {"domain": [0, 1], "range": [684, 1382], "nice": false, "zero": false}, "axis": null},
       "x2": {"datum": 1.1},
       "y": {"datum": -0.3, "type": "quantitative", "scale": {"domain": [-0.0336, 7.4774], "range": [0, 436], "nice": false, "zero": false}, "axis": null},
       "y2": {"datum": 7.4774}
     }},
    {"data": {"name": "box_first"}, "mark": {"type": "text", "align": "left", "baseline": "alphabetic", "fontSize": 47.5, "color": "#111111"},
     "encoding": {
       "x": {"datum": 0.1619, "type": "quantitative", "scale": {"domain": [0, 1], "range": [684, 1382], "nice": false, "zero": false}, "axis": null},
       "y": {"datum": 0.19, "type": "quantitative", "scale": {"domain": [-0.0336, 7.4774], "range": [0, 436], "nice": false, "zero": false}, "axis": null},
       "text": {"field": "txt"}
     }},
    {"data": {"name": "box_sub"}, "mark": {"type": "text", "align": "left", "baseline": "alphabetic", "fontSize": 47.5, "color": "#111111"},
     "encoding": {
       "x": {"datum": 0.1619, "type": "quantitative", "scale": {"domain": [0, 1], "range": [684, 1382], "nice": false, "zero": false}, "axis": null},
       "y": {"field": "line", "type": "quantitative", "scale": {"domain": [-0.0336, 7.4774], "range": [0, 436], "nice": false, "zero": false}, "axis": null},
       "text": {"field": "txt"}
     }},
    {"data": {"name": "box_bullets"}, "mark": {"type": "text", "align": "left", "baseline": "alphabetic", "fontSize": 47.5, "color": "#111111"},
     "encoding": {
       "x": {"datum": 0.0268, "type": "quantitative", "scale": {"domain": [0, 1], "range": [684, 1382], "nice": false, "zero": false}, "axis": null},
       "y": {"field": "line", "type": "quantitative", "scale": {"domain": [-0.0336, 7.4774], "range": [0, 436], "nice": false, "zero": false}, "axis": null},
       "text": {"field": "txt"}
     }},
    {"data": {"name": "box_bold"}, "mark": {"type": "text", "align": "left", "baseline": "alphabetic", "fontSize": 47.5, "fontWeight": "bold", "color": "#111111"},
     "encoding": {
       "x": {"datum": 0.1117, "type": "quantitative", "scale": {"domain": [0, 1], "range": [684, 1382], "nice": false, "zero": false}, "axis": null},
       "y": {"field": "line", "type": "quantitative", "scale": {"domain": [-0.0336, 7.4774], "range": [0, 436], "nice": false, "zero": false}, "axis": null},
       "text": {"field": "txt"}
     }},
    {"data": {"name": "box_plain"}, "mark": {"type": "text", "align": "left", "baseline": "alphabetic", "fontSize": 47.5, "color": "#111111"},
     "encoding": {
       "x": {"datum": 0.1117, "type": "quantitative", "scale": {"domain": [0, 1], "range": [684, 1382], "nice": false, "zero": false}, "axis": null},
       "y": {"field": "line", "type": "quantitative", "scale": {"domain": [-0.0336, 7.4774], "range": [0, 436], "nice": false, "zero": false}, "axis": null},
       "text": {"field": "txt"}
     }},
    {"data": {"name": "box_q"}, "mark": {"type": "text", "align": "left", "baseline": "alphabetic", "fontSize": 47.5, "fontWeight": "bold", "color": "#e46c2a"},
     "encoding": {
       "x": {"datum": 0.3574, "type": "quantitative", "scale": {"domain": [0, 1], "range": [684, 1382], "nice": false, "zero": false}, "axis": null},
       "y": {"field": "line", "type": "quantitative", "scale": {"domain": [-0.0336, 7.4774], "range": [0, 436], "nice": false, "zero": false}, "axis": null},
       "text": {"field": "txt"}
     }},
    {"data": {"name": "box_pending"}, "mark": {"type": "text", "align": "left", "baseline": "alphabetic", "fontSize": 47.5, "fontWeight": "bold", "color": "#ff6a00"},
     "encoding": {
       "x": {"datum": 0.6185, "type": "quantitative", "scale": {"domain": [0, 1], "range": [684, 1382], "nice": false, "zero": false}, "axis": null},
       "y": {"field": "line", "type": "quantitative", "scale": {"domain": [-0.0336, 7.4774], "range": [0, 436], "nice": false, "zero": false}, "axis": null},
       "text": {"field": "txt"}
     }}
  ],
  "resolve": {
    "scale": {"x": "independent", "y": "independent"},
    "axis": {"x": "independent", "y": "independent"}
  }
}
